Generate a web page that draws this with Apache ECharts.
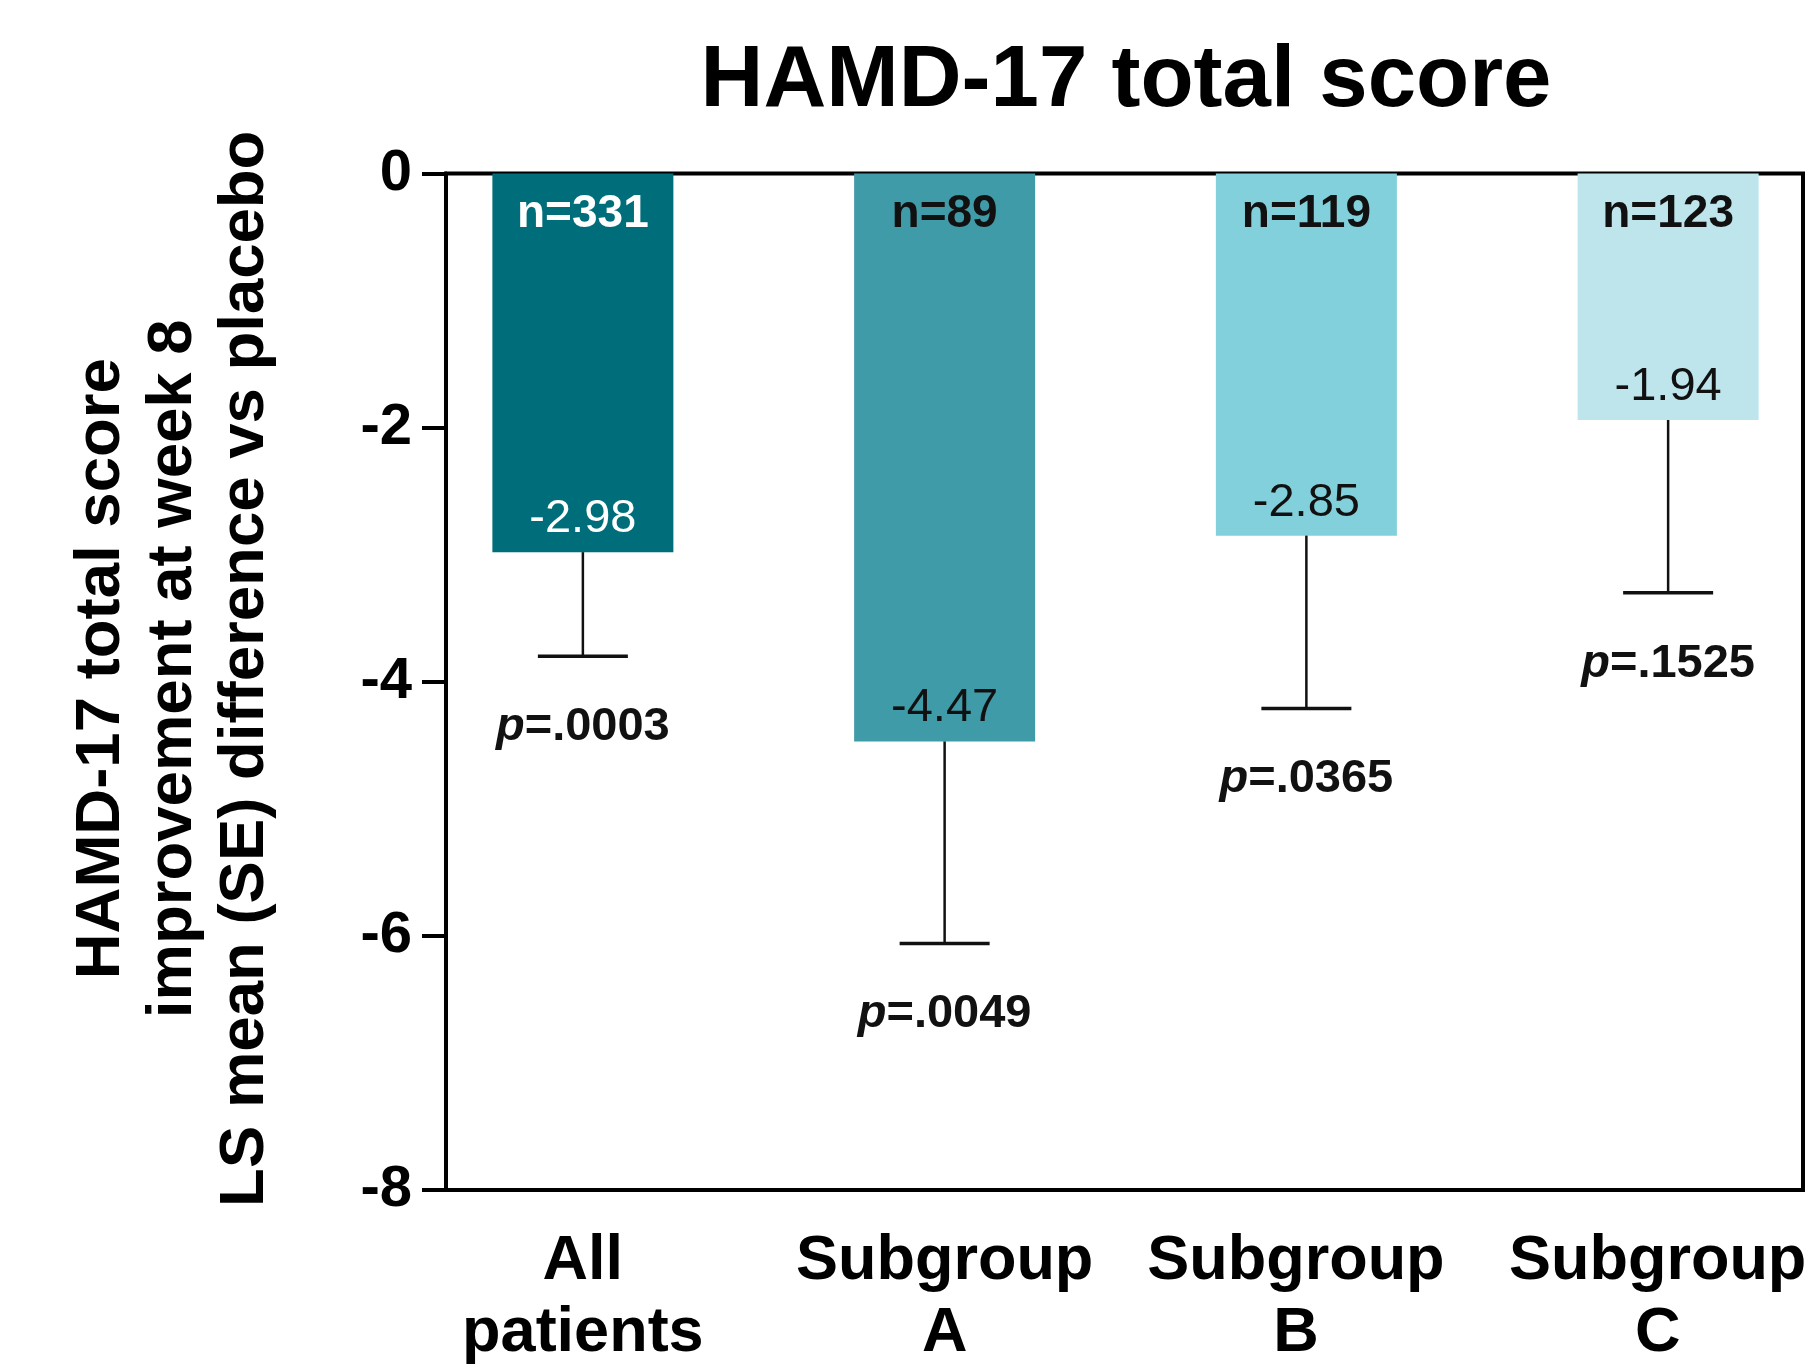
<!DOCTYPE html>
<html>
<head>
<meta charset="utf-8">
<script src="https://cdn.jsdelivr.net/npm/echarts@6/dist/echarts.min.js"></script>
<style>
html,body{margin:0;padding:0;background:#fff;}
#chart{width:1815px;height:1372px;}
</style>
</head>
<body>
<div id="chart"></div>
<script>
var categories = ['All\npatients', 'Subgroup\nA', 'Subgroup\nB', 'Subgroup\nC'];
var nLabels = ['n=331', 'n=89', 'n=119', 'n=123'];
var meanDiff = [-2.98, -4.47, -2.85, -1.94];
var seValues = [0.82, 1.59, 1.36, 1.36];
var pValues = ['.0003', '.0049', '.0365', '.1525'];
var barColors = ['#006E7A', '#409BA8', '#82D0DB', '#BEE5EB'];
var insideTextColors = ['#ffffff', '#111111', '#111111', '#111111'];
var yMin = -8, yMax = 0, yInterval = 2;

var FONT = '"Liberation Sans", Arial, Helvetica, sans-serif';

var chart = echarts.init(document.getElementById('chart'), null, {renderer: 'canvas'});

var labelShift = [0, 0, 21, 21];
var categoryData = categories.map(function (c, i) {
  return {value: c, textStyle: {padding: [0, labelShift[i], 0, 0]}};
});
var barData = meanDiff.map(function (v, i) {
  return {value: v, itemStyle: {color: barColors[i]}};
});
var errData = meanDiff.map(function (v, i) {
  return [i, v, seValues[i]];
});

var option = {
  backgroundColor: '#ffffff',
  animation: false,
  title: {
    text: 'HAMD-17 total score',
    left: 1121,
    top: 34,
    textAlign: 'center',
    textStyle: {fontFamily: FONT, fontWeight: 'bold', fontSize: 87, color: '#000'}
  },
  grid: [
    {left: 446, right: 12, top: 173.5, bottom: 182, show: true, borderColor: '#000', borderWidth: 4,
      backgroundColor: 'transparent', outerBoundsMode: 'none', containLabel: false},
    {left: 402, width: 1447, top: 173.5, bottom: 182, outerBoundsMode: 'none', containLabel: false}
  ],
  xAxis: [
    {type: 'value', gridIndex: 0, show: false, min: 0, max: 1},
    {
      type: 'category', gridIndex: 1, data: categoryData,
      axisLine: {show: false}, axisTick: {show: false},
      axisLabel: {
        fontFamily: FONT, fontWeight: 'bold', fontSize: 63, lineHeight: 72,
        color: '#000', margin: 36, interval: 0
      }
    }
  ],
  yAxis: [
    {
      type: 'value', gridIndex: 0, min: yMin, max: yMax, interval: yInterval,
      axisLine: {show: true, lineStyle: {color: '#000', width: 4}},
      axisTick: {show: true, inside: false, length: 24, lineStyle: {color: '#000', width: 4}},
      axisLabel: {fontFamily: FONT, fontWeight: 'bold', fontSize: 58, color: '#000', margin: 34},
      splitLine: {show: false},
      name: 'HAMD-17 total score\nimprovement at week 8\nLS mean (SE) difference vs placebo',
      nameLocation: 'middle',
      nameRotate: 90,
      nameGap: 165,
      nameTextStyle: {fontFamily: FONT, fontWeight: 'bold', fontSize: 63.5, lineHeight: 72, color: '#000', align: 'center',
        padding: [0, 0, 0, 26]}
    },
    {type: 'value', gridIndex: 1, min: yMin, max: yMax, interval: yInterval, show: false}
  ],
  series: [
    {
      type: 'bar', xAxisIndex: 1, yAxisIndex: 1,
      barWidth: 181,
      data: barData
    },
    {
      type: 'custom', xAxisIndex: 1, yAxisIndex: 1,
      data: errData,
      z: 5,
      clip: false,
      renderItem: function (params, api) {
        var i = api.value(0);
        var mean = api.value(1);
        var se = api.value(2);
        var top = api.coord([i, 0]);
        var p1 = api.coord([i, mean]);
        var p2 = api.coord([i, mean - se]);
        var x = p1[0];
        var capHalf = 45;
        return {
          type: 'group',
          children: [
            {type: 'line', shape: {x1: x, y1: p1[1], x2: x, y2: p2[1]}, style: {stroke: '#111', lineWidth: 2.5}},
            {type: 'line', shape: {x1: x - capHalf, y1: p2[1], x2: x + capHalf, y2: p2[1]}, style: {stroke: '#111', lineWidth: 3.5}},
            {type: 'text', style: {x: x, y: top[1] + 41, text: nLabels[i], align: 'center', verticalAlign: 'middle',
              font: 'bold 46px ' + FONT, fill: insideTextColors[i]}},
            {type: 'text', style: {x: x, y: p1[1] - 33, text: String(mean.toFixed(2)), align: 'center', verticalAlign: 'middle',
              font: '47px ' + FONT, fill: insideTextColors[i]}},
            {type: 'text', style: {x: x, y: p2[1] + 71, align: 'center', verticalAlign: 'middle',
              text: '{it|p}{b|=' + pValues[i] + '}',
              rich: {
                it: {fontFamily: FONT, fontWeight: 'bold', fontStyle: 'italic', fontSize: 47, fill: '#111', color: '#111'},
                b: {fontFamily: FONT, fontWeight: 'bold', fontSize: 47, fill: '#111', color: '#111'}
              }}}
          ]
        };
      }
    }
  ]
};
chart.setOption(option);
</script>
</body>
</html>
